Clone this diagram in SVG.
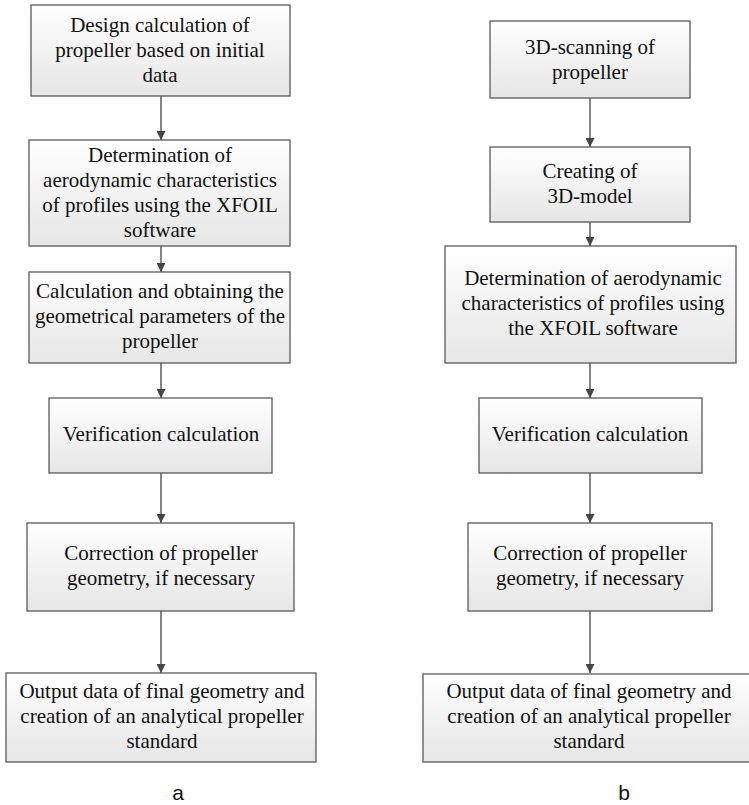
<svg xmlns="http://www.w3.org/2000/svg" width="749" height="805" viewBox="0 0 749 805">
  <defs>
    <linearGradient id="boxFill" x1="0" y1="0" x2="0" y2="1">
      <stop offset="0" stop-color="#ffffff"/>
      <stop offset="1" stop-color="#e6e6e6"/>
    </linearGradient>
    <marker id="arrow" viewBox="0 0 10 10" refX="10" refY="5" markerWidth="9" markerHeight="9" markerUnits="userSpaceOnUse" orient="auto">
      <path d="M0,0 L10,5 L0,10 z" fill="#454545"/>
    </marker>
    <style>
      .box { fill: url(#boxFill); stroke: #5a5a5a; stroke-width: 1.3; }
      .t { font-family: 'Liberation Serif', 'DejaVu Serif', serif; font-size: 21px; fill: #111; text-anchor: middle; }
      .cap { font-family: 'Liberation Sans', 'DejaVu Sans', sans-serif; font-size: 21px; fill: #111; text-anchor: middle; }
      .conn { stroke: #454545; stroke-width: 1.3; fill: none; marker-end: url(#arrow); }
    </style>
  </defs>

  <!-- connectors -->
  <g id="connectors">
    <line class="conn" x1="161" y1="96" x2="161" y2="140"/>
    <line class="conn" x1="161" y1="246" x2="161" y2="272"/>
    <line class="conn" x1="161" y1="363" x2="161" y2="398"/>
    <line class="conn" x1="161" y1="473" x2="161" y2="523"/>
    <line class="conn" x1="161" y1="611" x2="161" y2="673"/>
    <line class="conn" x1="590" y1="98" x2="590" y2="147"/>
    <line class="conn" x1="590" y1="222" x2="590" y2="246"/>
    <line class="conn" x1="590" y1="363" x2="590" y2="398"/>
    <line class="conn" x1="590" y1="473" x2="590" y2="523"/>
    <line class="conn" x1="590" y1="611" x2="590" y2="673"/>
  </g>

  <!-- column a -->
  <g id="a1">
    <rect class="box" x="31" y="5" width="259" height="91"/>
    <text class="t" x="160" y="32">Design calculation of</text>
    <text class="t" x="160" y="57">propeller based on initial</text>
    <text class="t" x="160" y="82">data</text>
  </g>
  <g id="a2">
    <rect class="box" x="29" y="140" width="261" height="106"/>
    <text class="t" x="160" y="162">Determination of</text>
    <text class="t" x="160" y="187">aerodynamic characteristics</text>
    <text class="t" x="160" y="212">of profiles using the XFOIL</text>
    <text class="t" x="160" y="237">software</text>
  </g>
  <g id="a3">
    <rect class="box" x="29" y="272" width="261" height="91"/>
    <text class="t" x="160" y="298">Calculation and obtaining the</text>
    <text class="t" x="160" y="323">geometrical parameters of the</text>
    <text class="t" x="160" y="348">propeller</text>
  </g>
  <g id="a4">
    <rect class="box" x="49" y="398" width="223" height="75"/>
    <text class="t" x="161" y="441">Verification calculation</text>
  </g>
  <g id="a5">
    <rect class="box" x="27" y="523" width="267" height="88"/>
    <text class="t" x="161" y="560">Correction of propeller</text>
    <text class="t" x="161" y="585">geometry, if necessary</text>
  </g>
  <g id="a6">
    <rect class="box" x="6" y="673" width="310" height="89"/>
    <text class="t" x="162" y="698">Output data of final geometry and</text>
    <text class="t" x="162" y="723">creation of an analytical propeller</text>
    <text class="t" x="162" y="748">standard</text>
  </g>
  <text class="cap" x="178" y="800">a</text>

  <!-- column b -->
  <g id="b1">
    <rect class="box" x="490" y="21" width="200" height="77"/>
    <text class="t" x="590" y="54">3D-scanning of</text>
    <text class="t" x="590" y="79">propeller</text>
  </g>
  <g id="b2">
    <rect class="box" x="490" y="147" width="200" height="75"/>
    <text class="t" x="590" y="178">Creating of</text>
    <text class="t" x="590" y="203">3D-model</text>
  </g>
  <g id="b3">
    <rect class="box" x="445" y="246" width="291" height="117"/>
    <text class="t" x="593" y="285">Determination of aerodynamic</text>
    <text class="t" x="593" y="310">characteristics of profiles using</text>
    <text class="t" x="593" y="335">the XFOIL software</text>
  </g>
  <g id="b4">
    <rect class="box" x="479" y="398" width="223" height="75"/>
    <text class="t" x="590" y="441">Verification calculation</text>
  </g>
  <g id="b5">
    <rect class="box" x="468" y="523" width="244" height="88"/>
    <text class="t" x="590" y="560">Correction of propeller</text>
    <text class="t" x="590" y="585">geometry, if necessary</text>
  </g>
  <g id="b6">
    <rect class="box" x="423" y="674" width="334" height="88"/>
    <text class="t" x="589" y="698">Output data of final geometry and</text>
    <text class="t" x="589" y="723">creation of an analytical propeller</text>
    <text class="t" x="589" y="748">standard</text>
  </g>
  <text class="cap" x="624" y="800">b</text>
</svg>
